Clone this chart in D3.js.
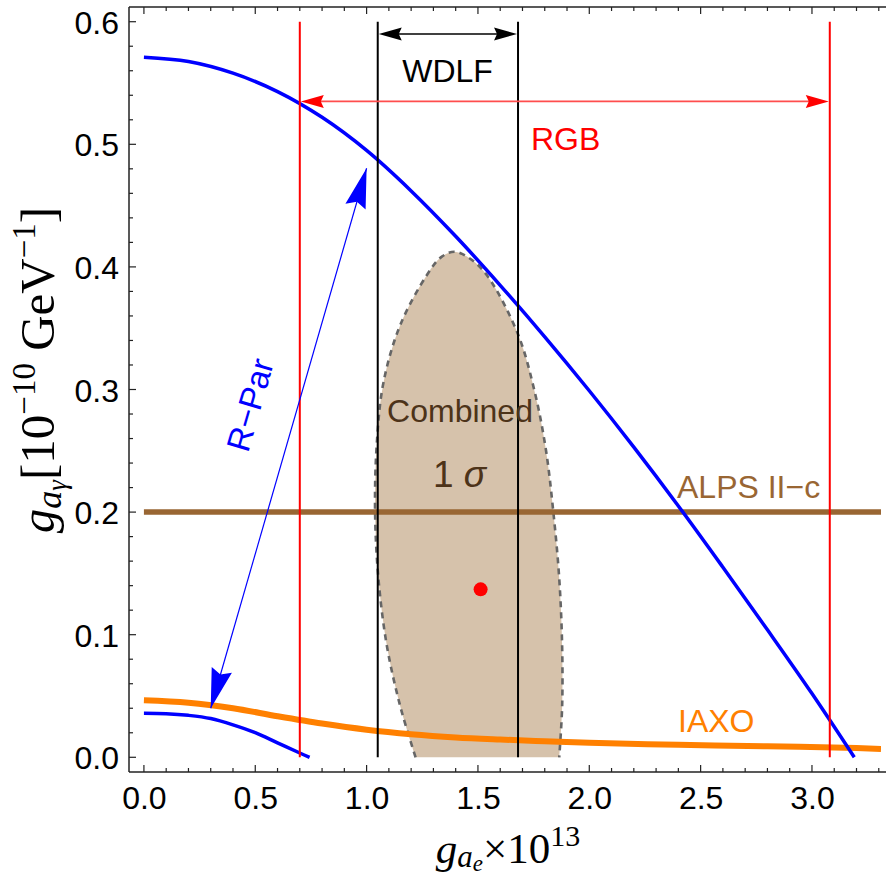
<!DOCTYPE html>
<html>
<head>
<meta charset="utf-8">
<script src="https://cdn.jsdelivr.net/npm/d3@7"></script>
<style>
  html, body { margin: 0; padding: 0; background: #fff; }
  svg { display: block; }
</style>
</head>
<body>
<svg id="chart" width="886" height="875"></svg>
<script>
// ---------------- data ----------------
const xTicks = [0.0, 0.5, 1.0, 1.5, 2.0, 2.5, 3.0];
const yTicks = [0.0, 0.1, 0.2, 0.3, 0.4, 0.5, 0.6];

// R-Par upper boundary (blue)
const rparUpperX = [0, 0.2, 0.4, 0.6, 0.8, 1.0, 1.2, 1.4, 1.6, 1.8, 2.0, 2.2, 2.4, 2.6, 2.8, 3.0, 3.19];
const rparUpperY = [0.571, 0.5675, 0.558, 0.543, 0.522, 0.495, 0.462, 0.425, 0.385, 0.343, 0.299, 0.253, 0.205, 0.155, 0.104, 0.052, 0.0];

// R-Par lower boundary (blue)
const rparLowerX = [0, 0.1, 0.2, 0.3, 0.4, 0.5, 0.6, 0.7, 0.744];
const rparLowerY = [0.036, 0.0356, 0.0342, 0.0316, 0.0265, 0.0201, 0.0118, 0.0035, 0.0];

// IAXO sensitivity (orange)
const iaxoX = [0, 0.2, 0.4, 0.6, 0.8, 1.0, 1.2, 1.4, 1.6, 1.8, 2.0, 2.4, 2.8, 3.2, 3.31];
const iaxoY = [0.0465, 0.0445, 0.040, 0.0335, 0.0275, 0.0225, 0.0188, 0.0162, 0.0145, 0.0131, 0.0118, 0.0102, 0.0090, 0.0075, 0.0068];

// ALPS II-c
const alpsY = 0.2;

// Combined 1-sigma region boundary
const combX = [1.220, 1.152, 1.091, 1.053, 1.038, 1.046, 1.076, 1.152, 1.273, 1.335, 1.395, 1.470, 1.545, 1.680, 1.755, 1.805, 1.838, 1.865, 1.878, 1.878, 1.865];
const combY = [0.0, 0.041, 0.091, 0.146, 0.201, 0.2565, 0.306, 0.353, 0.394, 0.408, 0.4124, 0.406, 0.392, 0.345, 0.298, 0.251, 0.201, 0.146, 0.091, 0.041, 0.0];

// best fit point
const bestFit = {x: 1.512, y: 0.137};

// RGB bounds
const rgbBounds = [0.70, 3.08];
const rgbArrowY = 0.535;
// WDLF bounds
const wdlfBounds = [1.05, 1.68];
const wdlfArrowY = 0.590;
const boundTop = 0.6;

// R-Par arrow
const rparArrow = {x1: 0.30, y1: 0.040, x2: 1.0, y2: 0.4805};

// ---------------- layout ----------------
const svg = d3.select("#chart");
const L = 129, R = 881, T = 7, B = 772;
const x = d3.scaleLinear().domain([-0.067, 3.31]).range([L, R]);
const y = d3.scaleLinear().domain([-0.012, 0.612]).range([B, T]);

const sans = "'Liberation Sans', Arial, sans-serif";
const serif = "'Liberation Serif', 'Times New Roman', serif";

svg.append("defs").append("clipPath").attr("id", "clip")
  .append("rect").attr("x", L).attr("y", T).attr("width", R - L).attr("height", B - T);
const plot = svg.append("g").attr("clip-path", "url(#clip)");

const zip = (xs, ys) => xs.map((v, i) => [v, ys[i]]);
const smooth = d3.line().x(d => x(d[0])).y(d => y(d[1])).curve(d3.curveCatmullRom.alpha(0.5));

// Combined region
const combPts = zip(combX, combY);
plot.append("path")
  .attr("d", smooth(combPts) + "Z")
  .attr("fill", "#d6c2ab").attr("stroke", "none");
plot.append("path")
  .attr("d", smooth(combPts))
  .attr("fill", "none").attr("stroke", "#666").attr("stroke-width", 2.6)
  .attr("stroke-dasharray", "6,5");

// ALPS
plot.append("line").attr("x1", x(0)).attr("x2", R).attr("y1", y(alpsY)).attr("y2", y(alpsY))
  .attr("stroke", "#996633").attr("stroke-width", 5.5);

// IAXO
plot.append("path").attr("d", smooth(zip(iaxoX, iaxoY)))
  .attr("fill", "none").attr("stroke", "#ff8000").attr("stroke-width", 6);

// R-Par boundaries
plot.append("path").attr("d", smooth(zip(rparUpperX, rparUpperY)))
  .attr("fill", "none").attr("stroke", "#0000ff").attr("stroke-width", 3.5);
plot.append("path").attr("d", smooth(zip(rparLowerX, rparLowerY)))
  .attr("fill", "none").attr("stroke", "#0000ff").attr("stroke-width", 3.5);

// RGB verticals
rgbBounds.forEach(v => {
  plot.append("line").attr("x1", x(v)).attr("x2", x(v)).attr("y1", y(boundTop)).attr("y2", y(0))
    .attr("stroke", "#ff0000").attr("stroke-width", 2);
});
// WDLF verticals
wdlfBounds.forEach(v => {
  plot.append("line").attr("x1", x(v)).attr("x2", x(v)).attr("y1", y(boundTop)).attr("y2", y(0))
    .attr("stroke", "#000").attr("stroke-width", 2);
});

// arrowhead helper: tip at (tx,ty), pointing away from (fx,fy)
function head(g, fx, fy, tx, ty, len, halfW, color, notch) {
  const a = Math.atan2(ty - fy, tx - fx);
  const c = Math.cos(a), s = Math.sin(a);
  const bx = tx - len * c, by = ty - len * s;
  const nx = tx - (len - notch) * c, ny = ty - (len - notch) * s;
  const p1 = [bx - halfW * s, by + halfW * c];
  const p2 = [bx + halfW * s, by - halfW * c];
  g.append("path")
    .attr("d", `M${tx},${ty}L${p1[0]},${p1[1]}L${nx},${ny}L${p2[0]},${p2[1]}Z`)
    .attr("fill", color);
}

// RGB arrow
{
  const x1 = x(rgbBounds[0]), x2 = x(rgbBounds[1]), yy = y(rgbArrowY);
  plot.append("line").attr("x1", x1 + 10).attr("x2", x2 - 10).attr("y1", yy).attr("y2", yy)
    .attr("stroke", "#ff4d4d").attr("stroke-width", 1.6);
  head(plot, x2, yy, x1 + 1, yy, 23, 6.5, "#ff0000", 3);
  head(plot, x1, yy, x2 - 1, yy, 23, 6.5, "#ff0000", 3);
}
// WDLF arrow
{
  const x1 = x(wdlfBounds[0]), x2 = x(wdlfBounds[1]), yy = y(wdlfArrowY);
  plot.append("line").attr("x1", x1 + 10).attr("x2", x2 - 10).attr("y1", yy).attr("y2", yy)
    .attr("stroke", "#000").attr("stroke-width", 1.5);
  head(plot, x2, yy, x1 + 1, yy, 23, 6.5, "#000", 3);
  head(plot, x1, yy, x2 - 1, yy, 23, 6.5, "#000", 3);
}
// R-Par arrow
{
  const ax1 = x(rparArrow.x1), ay1 = y(rparArrow.y1), ax2 = x(rparArrow.x2), ay2 = y(rparArrow.y2);
  plot.append("line").attr("x1", ax1).attr("y1", ay1).attr("x2", ax2).attr("y2", ay2)
    .attr("stroke", "#0000ff").attr("stroke-width", 1.2);
  head(plot, ax1, ay1, ax2, ay2, 40, 10.5, "#0000ff", 5);
  head(plot, ax2, ay2, ax1, ay1, 40, 10.5, "#0000ff", 5);
}

// best fit point
plot.append("circle").attr("cx", x(bestFit.x)).attr("cy", y(bestFit.y)).attr("r", 7)
  .attr("fill", "#ff0000");

// ---------------- annotations ----------------
plot.append("text").attr("x", 447.5).attr("y", 82).attr("text-anchor", "middle")
  .attr("font-family", sans).attr("font-size", 32).attr("fill", "#000").text("WDLF");
plot.append("text").attr("x", 531).attr("y", 150)
  .attr("font-family", sans).attr("font-size", 32).attr("fill", "#ff0000").text("RGB");
plot.append("text").attr("x", 677).attr("y", 498)
  .attr("font-family", sans).attr("font-size", 32).attr("fill", "#996633").text("ALPS II\u2212c");
plot.append("text").attr("x", 678).attr("y", 732)
  .attr("font-family", sans).attr("font-size", 32).attr("fill", "#ff8000").text("IAXO");
plot.append("text").attr("x", 460).attr("y", 422).attr("text-anchor", "middle")
  .attr("font-family", sans).attr("font-size", 32).attr("fill", "#4d3319").text("Combined");
{
  const t = plot.append("text").attr("x", 433).attr("y", 487)
    .attr("font-family", sans).attr("font-size", 37).attr("fill", "#4d3319");
  t.append("tspan").text("1 ");
  t.append("tspan").attr("font-style", "italic").text("\u03c3");
}
{
  const ang = Math.atan2(y(rparArrow.y2) - y(rparArrow.y1), x(rparArrow.x2) - x(rparArrow.x1)) * 180 / Math.PI;
  plot.append("text").attr("transform", `translate(261,408) rotate(${ang})`)
    .attr("text-anchor", "middle")
    .attr("font-family", sans).attr("font-size", 33).attr("fill", "#0000ff").text("R\u2212Par");
}

// ---------------- axes / frame ----------------
const ax = svg.append("g");
const frameColor = "#222";
ax.append("line").attr("x1", L).attr("x2", L).attr("y1", T).attr("y2", B)
  .attr("stroke", frameColor).attr("stroke-width", 1.5);
ax.append("line").attr("x1", L).attr("x2", 886).attr("y1", B).attr("y2", B)
  .attr("stroke", frameColor).attr("stroke-width", 1.5);
ax.append("line").attr("x1", L).attr("x2", 886).attr("y1", T).attr("y2", T)
  .attr("stroke", frameColor).attr("stroke-width", 1.5);

const xMinor = d3.range(0, 3.31, 0.1);
const yMinor = d3.range(0, 0.61, 0.02);
xMinor.forEach(v => {
  const major = Math.abs(v * 2 - Math.round(v * 2)) < 1e-6;
  const len = major ? 7 : 4;
  ax.append("line").attr("x1", x(v)).attr("x2", x(v)).attr("y1", B).attr("y2", B - len)
    .attr("stroke", frameColor).attr("stroke-width", 1.2);
  ax.append("line").attr("x1", x(v)).attr("x2", x(v)).attr("y1", T).attr("y2", T + len)
    .attr("stroke", frameColor).attr("stroke-width", 1.2);
});
yMinor.forEach(v => {
  const major = Math.abs(v * 10 - Math.round(v * 10)) < 1e-6;
  const len = major ? 7 : 4;
  ax.append("line").attr("x1", L).attr("x2", L + len).attr("y1", y(v)).attr("y2", y(v))
    .attr("stroke", frameColor).attr("stroke-width", 1.2);
});

// tick labels via d3 axes
const xAxis = d3.axisBottom(x).tickValues(xTicks).tickFormat(d3.format(".1f")).tickSize(0).tickPadding(0);
const gx = svg.append("g").attr("transform", `translate(0,${B})`).call(xAxis);
gx.select(".domain").remove();
gx.selectAll("text").attr("font-family", sans).attr("font-size", 32).attr("fill", "#000")
  .attr("dy", null).attr("y", 37);

const yAxis = d3.axisLeft(y).tickValues(yTicks).tickFormat(d3.format(".1f")).tickSize(0).tickPadding(0);
const gy = svg.append("g").attr("transform", `translate(${L},0)`).call(yAxis);
gy.select(".domain").remove();
gy.selectAll("text").attr("font-family", sans).attr("font-size", 32).attr("fill", "#000")
  .attr("x", -10).attr("dy", "0.36em");

// axis titles
{
  const t = svg.append("text").attr("x", 508).attr("y", 863).attr("text-anchor", "middle")
    .attr("font-family", serif).attr("font-size", 43).attr("fill", "#000");
  t.append("tspan").attr("font-style", "italic").text("g");
  t.append("tspan").attr("font-style", "italic").attr("font-size", 31).attr("dy", 4).text("a");
  t.append("tspan").attr("font-style", "italic").attr("font-size", 23).attr("dy", 4).text("e");
  t.append("tspan").attr("dy", -8).text("\u00d710");
  t.append("tspan").attr("font-size", 30).attr("dy", -17).text("13");
}
{
  const t = svg.append("text").attr("transform", "translate(54,370) rotate(-90)").attr("text-anchor", "middle")
    .attr("font-family", serif).attr("font-size", 49).attr("fill", "#000");
  t.append("tspan").attr("font-style", "italic").text("g");
  t.append("tspan").attr("font-style", "italic").attr("font-size", 36).attr("dy", 7).text("a");
  t.append("tspan").attr("font-style", "italic").attr("font-size", 27).attr("dy", 5).text("\u03b3");
  t.append("tspan").attr("dy", -12).text("[10");
  t.append("tspan").attr("font-size", 33).attr("dy", -19).text("\u221210");
  t.append("tspan").attr("dy", 19).text(" GeV");
  t.append("tspan").attr("font-size", 33).attr("dy", -19).text("\u22121");
  t.append("tspan").attr("dy", 19).text("]");
}
</script>
</body>
</html>
